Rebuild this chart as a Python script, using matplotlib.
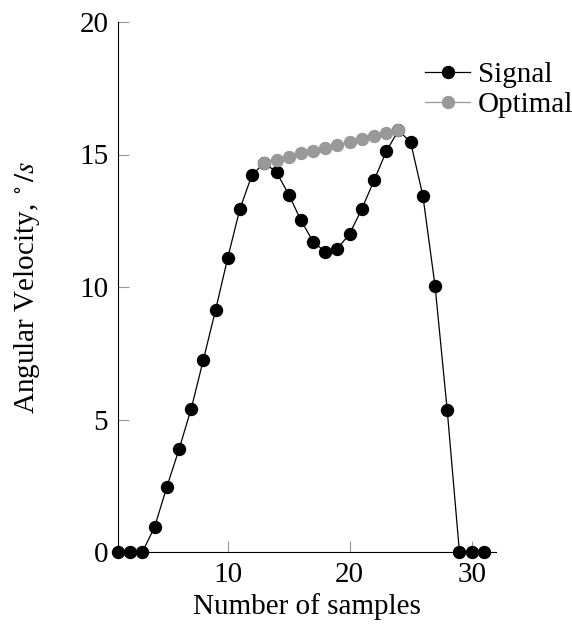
import matplotlib
matplotlib.use("Agg")
import matplotlib.pyplot as plt

plt.rcParams["font.family"] = ["Liberation Serif", "DejaVu Serif"]
plt.rcParams["mathtext.fontset"] = "stix"

# signal samples
samples = list(range(1, 32))
signal = [0, 0, 0, 0.94, 2.45, 3.87, 5.4, 7.25, 9.13, 11.1, 12.95, 14.24,
          14.68, 14.33, 13.49, 12.52, 11.71, 11.32, 11.45, 12.01, 12.95,
          14.02, 15.12, 15.91, 15.46, 13.45, 10.05, 5.35, 0, 0, 0]

# optimal segment
opt_samples = list(range(13, 25))
optimal = [14.68, 14.81, 14.91, 15.04, 15.12, 15.24, 15.36, 15.46, 15.59,
           15.71, 15.81, 15.91]

fig = plt.figure(figsize=(5.72, 6.28), dpi=100)
ax = fig.add_axes([118 / 572, 1 - 552 / 628, (496 - 118) / 572, (552 - 22) / 628])

ax.plot(samples, signal, color="black", lw=0.9, marker="o", ms=8.6,
        label="Signal", clip_on=False, zorder=3)
ax.plot(opt_samples, optimal, color="#999999", lw=0.9, marker="o", ms=8.6,
        label="Optimal", clip_on=False, zorder=4)

ax.set_xlim(1, 32)
ax.set_ylim(0, 20)
ax.set_xticks([10, 20, 30])
ax.set_yticks([0, 5, 10, 15, 20])
for s in ["top", "right"]:
    ax.spines[s].set_visible(False)
for s in ["left", "bottom"]:
    ax.spines[s].set_linewidth(0.8)
ax.tick_params(direction="in", length=8, width=0.8, color="#999999",
               labelsize=21, pad=7)

ax.set_xlabel("Number of samples", fontsize=21, labelpad=4)
ax.set_ylabel(r"Angular Velocity, $^\circ/s$", fontsize=21, labelpad=27)

ax.legend(loc="upper left", bbox_to_anchor=(425 / 572, 1 - 62 / 628),
          bbox_transform=fig.transFigure, frameon=False, fontsize=21,
          handlelength=1.55, handletextpad=0.27, labelspacing=0.12,
          borderaxespad=0, borderpad=0)

fig.savefig("out.png", dpi=100)
